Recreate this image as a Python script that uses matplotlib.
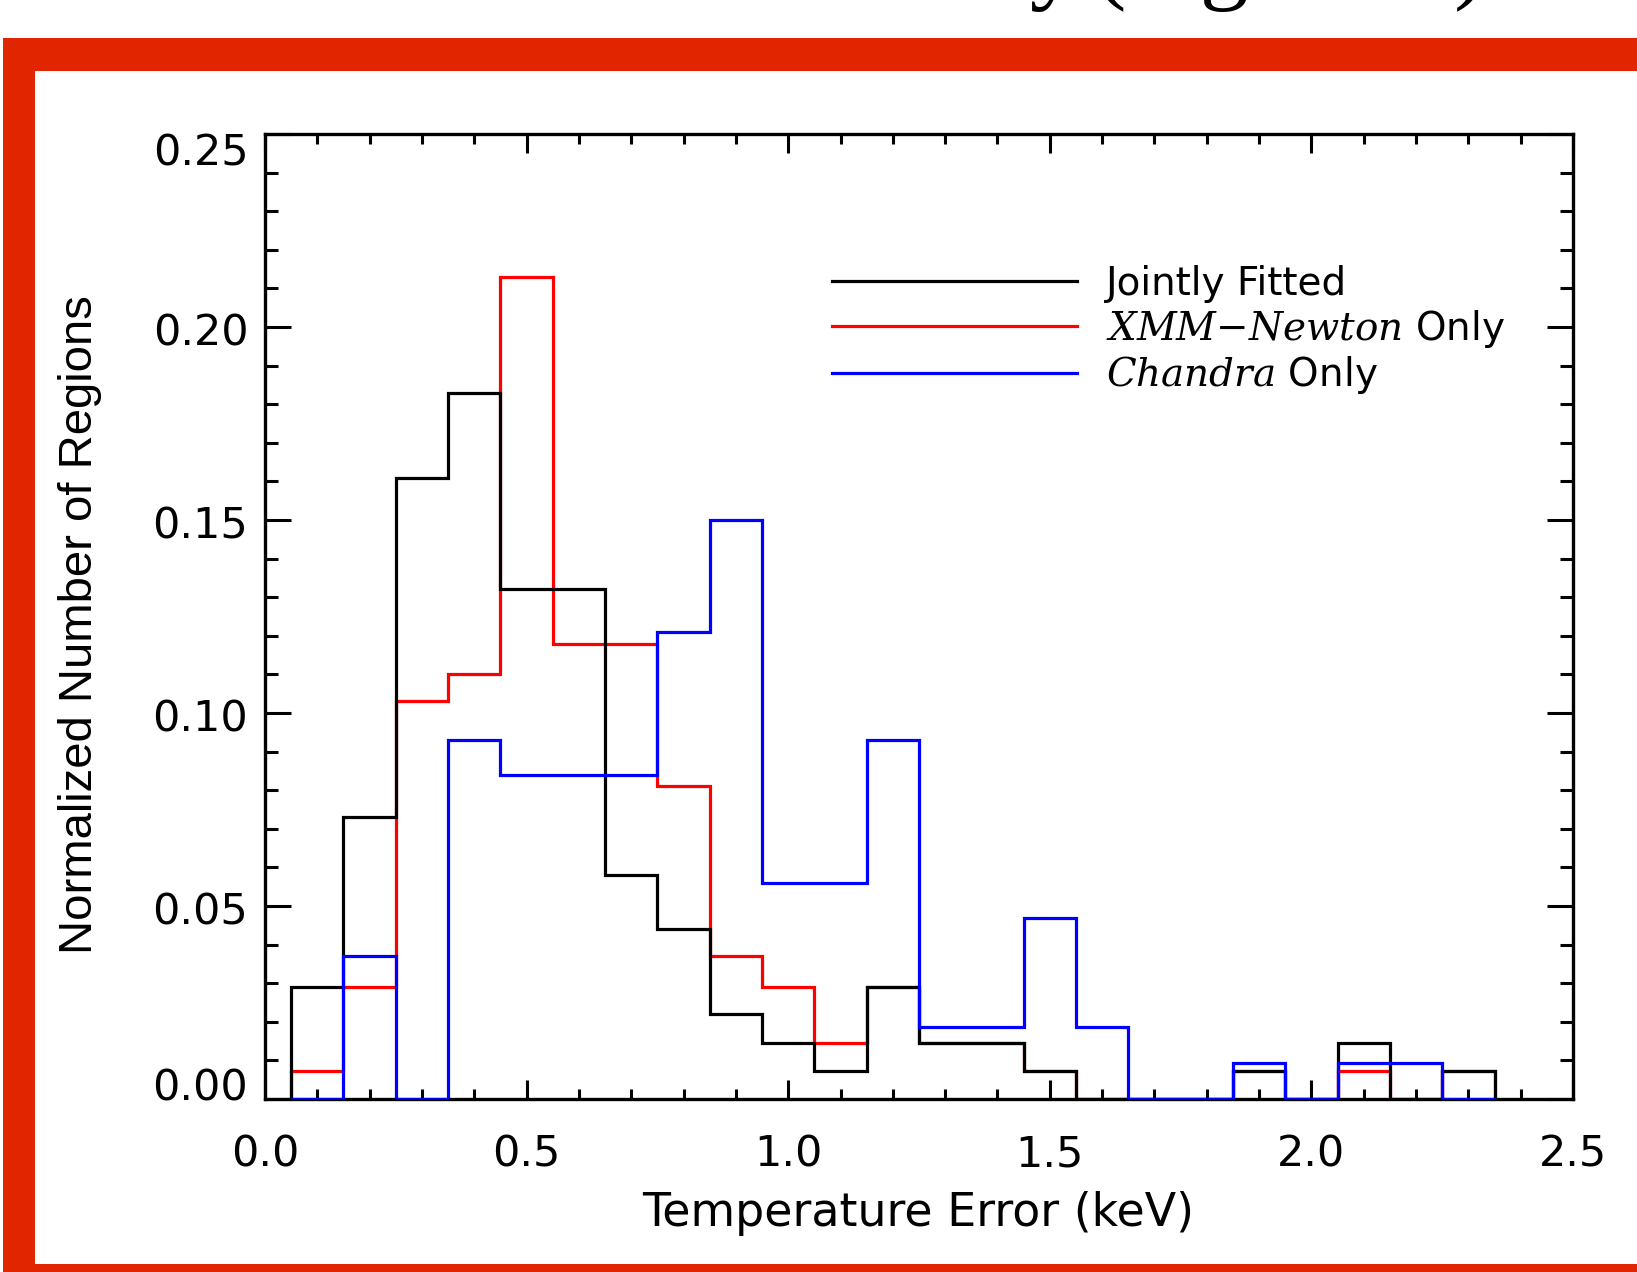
import numpy as np
import matplotlib
matplotlib.use('Agg')
from matplotlib import pyplot as plt
from matplotlib.patches import Rectangle
from matplotlib.lines import Line2D
from matplotlib.ticker import MultipleLocator

# histogram bins (keV) and normalised counts
bin_edges = [0.05, 0.15, 0.25, 0.35, 0.45, 0.55, 0.65, 0.75, 0.85, 0.95, 1.05, 1.15,
             1.25, 1.35, 1.45, 1.55, 1.65, 1.75, 1.85, 1.95, 2.05, 2.15, 2.25, 2.35]
jointly = [0.029, 0.073, 0.161, 0.183, 0.132, 0.132, 0.058, 0.044, 0.022, 0.0146, 0.0073, 0.029,
           0.0146, 0.0146, 0.0073, 0.0, 0.0, 0.0, 0.0073, 0.0, 0.0146, 0.0, 0.0073]
xmm_only = [0.0073, 0.029, 0.103, 0.110, 0.213, 0.118, 0.118, 0.081, 0.037, 0.029, 0.0146, 0.029,
            0.0146, 0.0146, 0.0073, 0.0, 0.0, 0.0, 0.0073, 0.0, 0.0073, 0.0, 0.0073]
chandra_only = [0.0, 0.037, 0.0, 0.093, 0.084, 0.084, 0.084, 0.121, 0.150, 0.056, 0.056, 0.093,
                0.0187, 0.0187, 0.047, 0.0187, 0.0, 0.0, 0.0093, 0.0, 0.0093, 0.0093, 0.0]

series_names = ['Jointly Fitted', r'$\mathit{XMM{-}Newton}$ Only', r'$\mathit{Chandra}$ Only']
series_colors = ['black', '#ff0000', '#0000ff']

xticks = [0.0, 0.5, 1.0, 1.5, 2.0, 2.5]
yticks = [0.00, 0.05, 0.10, 0.15, 0.20, 0.25]
ytick_labels = ['0.00', '0.05', '0.10', '0.15', '0.20', '0.25']
# IDL nudges the end labels inward; offsets in points (baseline below the tick)
ytick_drop = [1, 13, 13, 13, 13, 23]

# bits of the slide title that peek in above the red frame
title_bits = ['y', '(', 'g', ')']
title_x = [1054, 1110, 1224, 1470]

W, H = 1637, 1272
plt.rcParams['mathtext.fontset'] = 'custom'
plt.rcParams['mathtext.it'] = 'DejaVu Serif:italic'
plt.rcParams['mathtext.rm'] = 'DejaVu Serif'

fig = plt.figure(figsize=(W / 100, H / 100), dpi=100)

red = '#e02500'
def frame_bar(x0, y0, x1, y1):
    fig.patches.append(Rectangle((x0 / W, 1 - y1 / H), (x1 - x0) / W, (y1 - y0) / H,
                                 transform=fig.transFigure, color=red, lw=0, zorder=0))

frame_bar(3, 38, W, 71)
frame_bar(3, 38, 35, H)
frame_bar(3, 1264, W, H)

for s, x in zip(title_bits, title_x):
    fig.text(x / W, 1 + 9 / H, s, ha='center', va='baseline', fontsize=70,
             family='Liberation Serif')

ax = fig.add_axes([265 / W, 1 - 1099 / H, (1573 - 265) / W, (1099 - 134) / H])
ax.stairs(xmm_only, bin_edges, color=series_colors[1], lw=2.3, zorder=3)
ax.stairs(jointly, bin_edges, color=series_colors[0], lw=2.3, zorder=4)
ax.stairs(chandra_only, bin_edges, color=series_colors[2], lw=2.3, zorder=5)

ax.set_xlim(0, 2.5)
ax.set_ylim(0, 0.25)
ax.set_xticks(xticks)
ax.xaxis.set_minor_locator(MultipleLocator(0.1))
ax.set_yticks(yticks)
ax.yaxis.set_minor_locator(MultipleLocator(0.01))
for sp in ax.spines.values():
    sp.set_linewidth(2.4)
ax.tick_params(which='both', direction='in', top=True, right=True, width=2.2)
ax.tick_params(axis='x', which='major', length=14, labelsize=31, pad=25)
ax.tick_params(axis='x', which='minor', length=7)
ax.tick_params(axis='y', which='major', length=19, labelleft=False)
ax.tick_params(axis='y', which='minor', length=9.5)

for v, lab, d in zip(yticks, ytick_labels, ytick_drop):
    ax.annotate(lab, xy=(0, v), xycoords=('axes fraction', 'data'), xytext=(-12, -d),
                textcoords='offset points', ha='right', va='baseline', fontsize=31,
                annotation_clip=False)

fig.text(918 / W, 1 - 1213 / H, 'Temperature Error (keV)', ha='center', va='center',
         fontsize=33)
fig.text(80 / W, 1 - 625 / H, 'Normalized Number of Regions', rotation=90,
         ha='center', va='center', fontsize=34, family='Liberation Sans')

handles = [Line2D([], [], color=c, lw=2.3) for c in series_colors]
ax.legend(handles, series_names, loc='upper left', bbox_to_anchor=(832 / W, 1 - 265 / H),
          bbox_transform=fig.transFigure, frameon=False, fontsize=28, borderpad=0,
          borderaxespad=0, handlelength=6.3, handletextpad=0.75, labelspacing=0.12)

fig.savefig('out.png', dpi=100)
